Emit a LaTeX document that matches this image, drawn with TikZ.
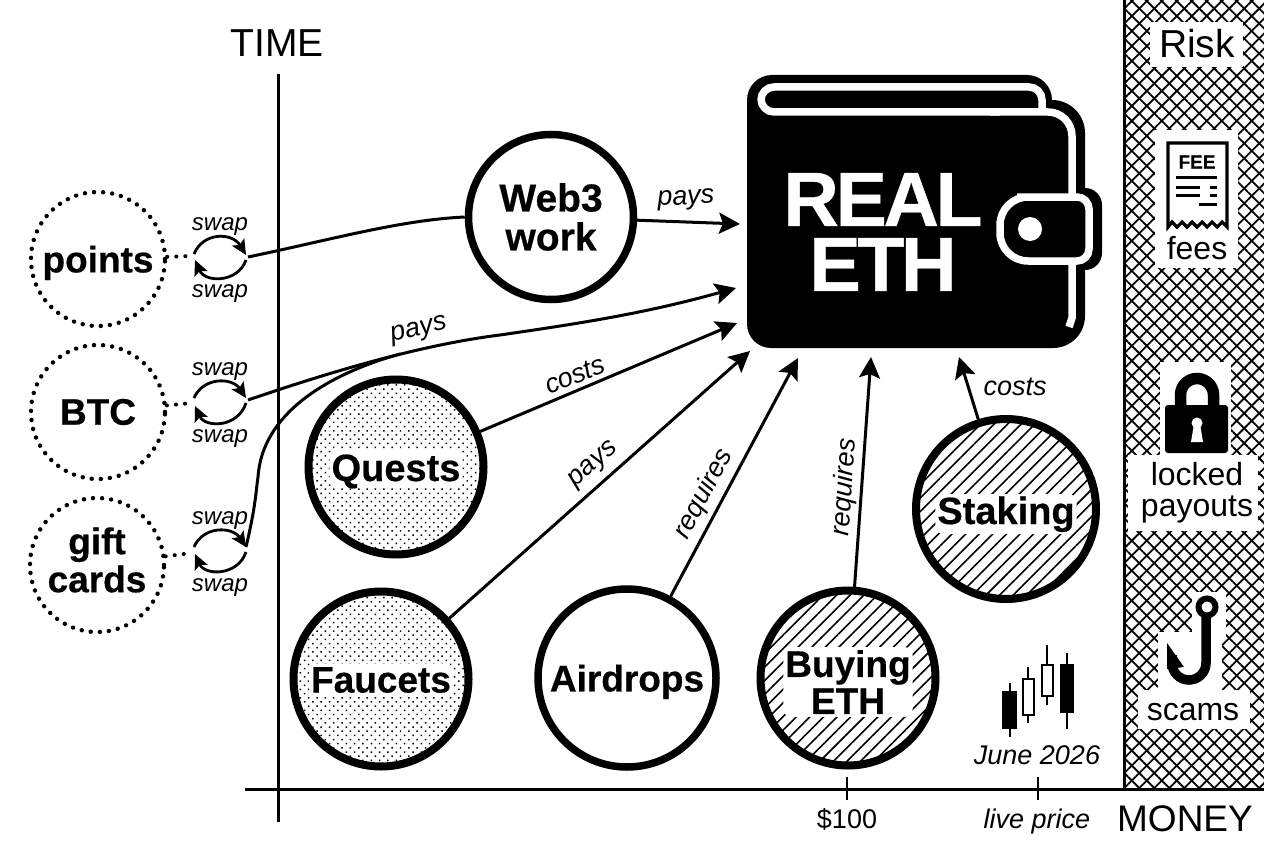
\documentclass[tikz,border=0pt]{standalone}
\usepackage{fontspec}
\setmainfont{Liberation Sans}[BoldFeatures={FakeBold=0.5}]
\usetikzlibrary{arrows.meta,patterns.meta}
\newcommand{\sz}[1]{\fontsize{#1}{#1}\selectfont}
\tikzset{
  blob/.style={draw, circle, line width=8pt, font=\sz{38}\bfseries, align=center},
  dotblob/.style={draw, circle, minimum size=134pt, line width=4.4pt, line cap=round, dash pattern=on 0.1pt off 9pt, font=\sz{37}\bfseries, align=center},
  halo/.style={fill=white, rounded corners=8pt, inner ysep=3pt, inner xsep=2pt, font=\sz{38}\bfseries, align=center},
  dotted fill/.style={pattern={Dots[angle=45, distance=5.9pt, radius=1.05pt]}},
  hatched fill/.style={pattern={Lines[angle=45, distance=9.6pt, line width=1.6pt]}},
  flow/.style={line width=3pt, -{Stealth[length=21pt, width=21pt, inset=4pt]}},
  plainflow/.style={line width=3pt},
  tag/.style={font=\sz{27}\itshape},
  swaptag/.style={font=\sz{24}\itshape},
  swaparc/.style={line width=2.8pt, -{Stealth[length=15pt, width=14pt, inset=3pt]}},
  dotlink/.style={line width=4pt, line cap=round, dash pattern=on 0.1pt off 9pt},
  risktag/.style={font=\sz{32}, align=center},
  riskbox/.style={fill=white, draw=none},
  wallline/.style={draw=white, line width=7.5pt},
  candle/.style={draw, line width=2pt}
}
\begin{document}
\begin{tikzpicture}[x=1pt, y=-1pt]
  \useasboundingbox (0,0) rectangle (1264,848);
  \fill[white] (0,0) rectangle (1264,848);
  \path[pattern={Lines[angle=45, distance=10.6pt, line width=1.8pt]}] (1124,0) rectangle (1264,789);
  \path[pattern={Lines[angle=-45, distance=10.6pt, line width=1.8pt]}] (1124,0) rectangle (1264,789);
  \draw[line width=3pt] (1124,0) -- (1124,789);
  \path[riskbox] (1150,22) rectangle (1243,67);
  \path[riskbox] (1155,130) rectangle (1238,268);
  \path[riskbox] (1160,362) rectangle (1231,456);
  \path[riskbox] (1128,455) rectangle (1258,531);
  \path[riskbox] (1192,592) rectangle (1226,640);
  \path[riskbox] (1158,632) rectangle (1222,692);
  \path[riskbox] (1138,690) rectangle (1250,729);
  \node (risklabel)[font=\sz{39}] at (1197,44) {Risk};
  \draw[line width=3.2pt] (1168,227) -- (1168,143) -- (1227,143) -- (1227,227) -- (1222,222) -- (1217,227) -- (1212,222) -- (1207,227) -- (1202,222) -- (1197,227) -- (1192,222) -- (1187,227) -- (1182,222) -- (1177,227) -- (1172,222) -- cycle;
  \node (feetitle)[font=\sz{19}\bfseries] at (1197,162) {FEE};
  \draw[line width=3pt] (1176,178) -- (1217,178);
  \draw[line width=3pt] (1176,187) -- (1200,187);
  \draw[line width=3pt] (1210,187) -- (1217,187);
  \draw[line width=3pt] (1176,195) -- (1200,195);
  \draw[line width=3pt] (1210,195) -- (1217,195);
  \draw[line width=3pt] (1199,204) -- (1217,204);
  \node (feeslabel)[risktag] at (1197,248) {fees};
  \draw[line width=11.5pt] (1180.5,410) -- (1180.5,395) arc[start angle=180, end angle=0, radius=16.5pt] -- (1213.5,410);
  \fill[rounded corners=3pt] (1165,405) rectangle (1228,453);
  \fill[white] (1197,423) circle[radius=5.5pt];
  \fill[white] (1194,424) -- (1200,424) -- (1203,442) -- (1191,442) -- cycle;
  \node (lockedlabel)[font=\fontsize{32}{31}\selectfont, align=center] at (1197,493) {locked\\payouts};
  \draw[line width=6pt] (1207,607) circle[radius=8.5pt];
  \draw[line width=9.5pt] (1206,616) -- (1206,663) arc[start angle=0, end angle=-180, radius=17pt] -- (1172,655);
  \fill (1167,643) -- (1184,667) -- (1167,669) -- cycle;
  \node (scamslabel)[risktag] at (1193,712) {scams};
  \draw[line width=3pt] (278,74) -- (278,822);
  \draw[line width=3pt] (245,789) -- (1264,789);
  \draw[line width=2.5pt] (847,777) -- (847,800);
  \draw[line width=2.5pt] (1038,777) -- (1038,800);
  \node (timelabel)[font=\sz{39}] at (277,43) {TIME};
  \node (moneylabel)[font=\sz{37}] at (1185,819) {MONEY};
  \node (pricelow)[font=\sz{27}] at (847,819) {\$100};
  \node (pricelive)[tag] at (1037,822) {live price};
  \node (junelabel)[tag] at (1037,755) {June 2026};
  \draw[candle] (1010,683) -- (1010,737);
  \draw[candle, fill=black] (1003,692) rectangle (1016,728);
  \draw[candle] (1028,667) -- (1028,723);
  \draw[candle, fill=white] (1023,679) rectangle (1034,715);
  \draw[candle] (1047,645) -- (1047,705);
  \draw[candle, fill=white] (1042,665) rectangle (1053,696);
  \draw[candle] (1067,653) -- (1067,729);
  \draw[candle, fill=black] (1061,665) rectangle (1073,712);
  \fill (747,200) [rounded corners=25pt] -- (747,75) -- (1052,75) [sharp corners] -- (1052,100) [rounded corners=33pt] -- (1085,100) [sharp corners] -- (1085,188) [rounded corners=17pt] -- (1102,188) -- (1102,270) [sharp corners] -- (1085,270) [rounded corners=32pt] -- (1085,348) [rounded corners=24pt] -- (747,348) -- cycle;
  \draw[wallline, rounded corners=13pt] (1042,112) -- (1042,87) -- (761,87) -- (761,112) -- (1000,112);
  \draw[wallline, rounded corners=24pt] (990,112) -- (1072,112) -- (1072,197);
  \draw[wallline] (1072,261) -- (1072,318) -- (1069,327);
  \draw[wallline, fill=black] (1045,197) [rounded corners=12pt] -- (1089,197) -- (1089,261) [rounded corners=28pt] -- (1000,261) -- (1000,197) -- cycle;
  \fill[white] (1030,229) circle[radius=12pt];
  \node (realeth)[text=white, font=\addfontfeature{LetterSpace=-4.5}\fontsize{77}{65}\selectfont\bfseries, align=center, inner sep=0pt] at (883,232) {REAL\\ETH};
  \coordinate (intop) at (740,224);
  \coordinate (inbtc) at (736,288);
  \coordinate (inquests) at (737,323);
  \coordinate (infaucets) at (750,351);
  \coordinate (inairdrops) at (798,358);
  \coordinate (inbuying) at (871,357);
  \coordinate (instaking) at (959,357);
  \coordinate (merge) at (400,354);
  \coordinate (midbtc) at (500,335);
  \node (points)[dotblob, text depth=0pt] at (98,259) {points};
  \node (btc)[dotblob] at (98,412) {BTC};
  \node (giftcards)[dotblob] at (97,565) {};
  \node (giftlabel)[font=\fontsize{37}{38}\selectfont\bfseries, align=center] at (97,560) {gift\\cards};
  \coordinate (pointsleft) at (194,254);
  \coordinate (pointsright) at (246,255);
  \coordinate (pointsback) at (246,260);
  \coordinate (pointsfront) at (195,260);
  \coordinate (pointsout) at (248,257);
  \coordinate (btcleft) at (194,398);
  \coordinate (btcright) at (246,398);
  \coordinate (btcback) at (246,403);
  \coordinate (btcfront) at (195,406);
  \coordinate (btcout) at (248,400);
  \coordinate (giftleft) at (194,547);
  \coordinate (giftright) at (246,547);
  \coordinate (giftback) at (246,552);
  \coordinate (giftfront) at (195,554);
  \draw[dotlink] (points) -- (192,256);
  \draw[dotlink] (btc) -- (192,403);
  \draw[dotlink] (giftcards) -- (192,553);
  \draw[swaparc] (pointsleft) .. controls (203,232) and (232,232) .. (pointsright);
  \draw[swaparc] (pointsback) .. controls (238,283) and (205,283) .. (pointsfront);
  \draw[swaparc] (btcleft) .. controls (203,377) and (232,377) .. (btcright);
  \draw[swaparc] (btcback) .. controls (238,428) and (205,428) .. (btcfront);
  \draw[swaparc] (giftleft) .. controls (203,526) and (232,526) .. (giftright);
  \draw[swaparc] (giftback) .. controls (238,576) and (205,576) .. (giftfront);
  \node (swapa)[swaptag] at (220,227) {swap};
  \node (swapb)[swaptag] at (220,294) {swap};
  \node (swapc)[swaptag] at (220,372) {swap};
  \node (swapd)[swaptag] at (220,439) {swap};
  \node (swape)[swaptag] at (220,521) {swap};
  \node (swapf)[swaptag] at (220,588) {swap};
  \node (webwork)[blob, minimum size=165pt, line width=7.5pt, font=\sz{39}\bfseries] at (551,217) {Web3\\work};
  \node (quests)[blob, dotted fill, minimum size=175pt] at (396,467) {};
  \node (questslabel)[halo, text height=28pt, text depth=2pt] at (396,468) {Quests};
  \node (faucets)[blob, dotted fill, minimum size=175pt] at (381,679) {};
  \node (faucetslabel)[halo, font=\sz{37}\bfseries] at (381,680) {Faucets};
  \node (airdrops)[blob, line width=7.5pt, minimum size=178pt, font=\sz{37}\bfseries, text depth=0pt] at (627,678) {Airdrops};
  \node (buying)[blob, hatched fill, minimum size=175pt] at (848,678) {};
  \node (buyinglabel)[halo, font=\sz{37}\bfseries] at (848,682) {Buying\\ETH};
  \node (staking)[blob, hatched fill, minimum size=180pt] at (1006,509) {};
  \node (stakinglabel)[halo, text height=27pt, text depth=7pt] at (1006,514) {Staking};
  \draw[flow] (webwork) -- (intop);
  \draw[plainflow] (pointsout) .. controls (330,240) and (400,220) .. (webwork.west);
  \draw[plainflow] (btcout) .. controls (330,372) and (420,345) .. (midbtc);
  \draw[flow] (midbtc) .. controls (590,322) and (650,312) .. (inbtc);
  \draw[plainflow] (giftright) .. controls (256,505) and (256,490) .. (258,477) .. controls (262,415) and (325,375) .. (merge);
  \draw[flow] (quests) -- (inquests);
  \draw[flow] (faucets) -- (infaucets);
  \draw[flow] (airdrops) -- (inairdrops);
  \draw[flow] (buying) -- (inbuying);
  \draw[flow] (staking) -- (instaking);
  \node (paystop)[tag, rotate=3] at (686,200) {pays};
  \node (paysbtc)[tag, rotate=13] at (419,331) {pays};
  \node (costsquests)[tag, rotate=22] at (575,375) {costs};
  \node (paysfaucets)[tag, rotate=42] at (594,465) {pays};
  \node (reqairdrops)[tag, rotate=62] at (704,494) {requires};
  \node (reqbuying)[tag, rotate=86] at (845,487) {requires};
  \node (coststaking)[tag] at (1015,387) {costs};
\end{tikzpicture}
\end{document}
